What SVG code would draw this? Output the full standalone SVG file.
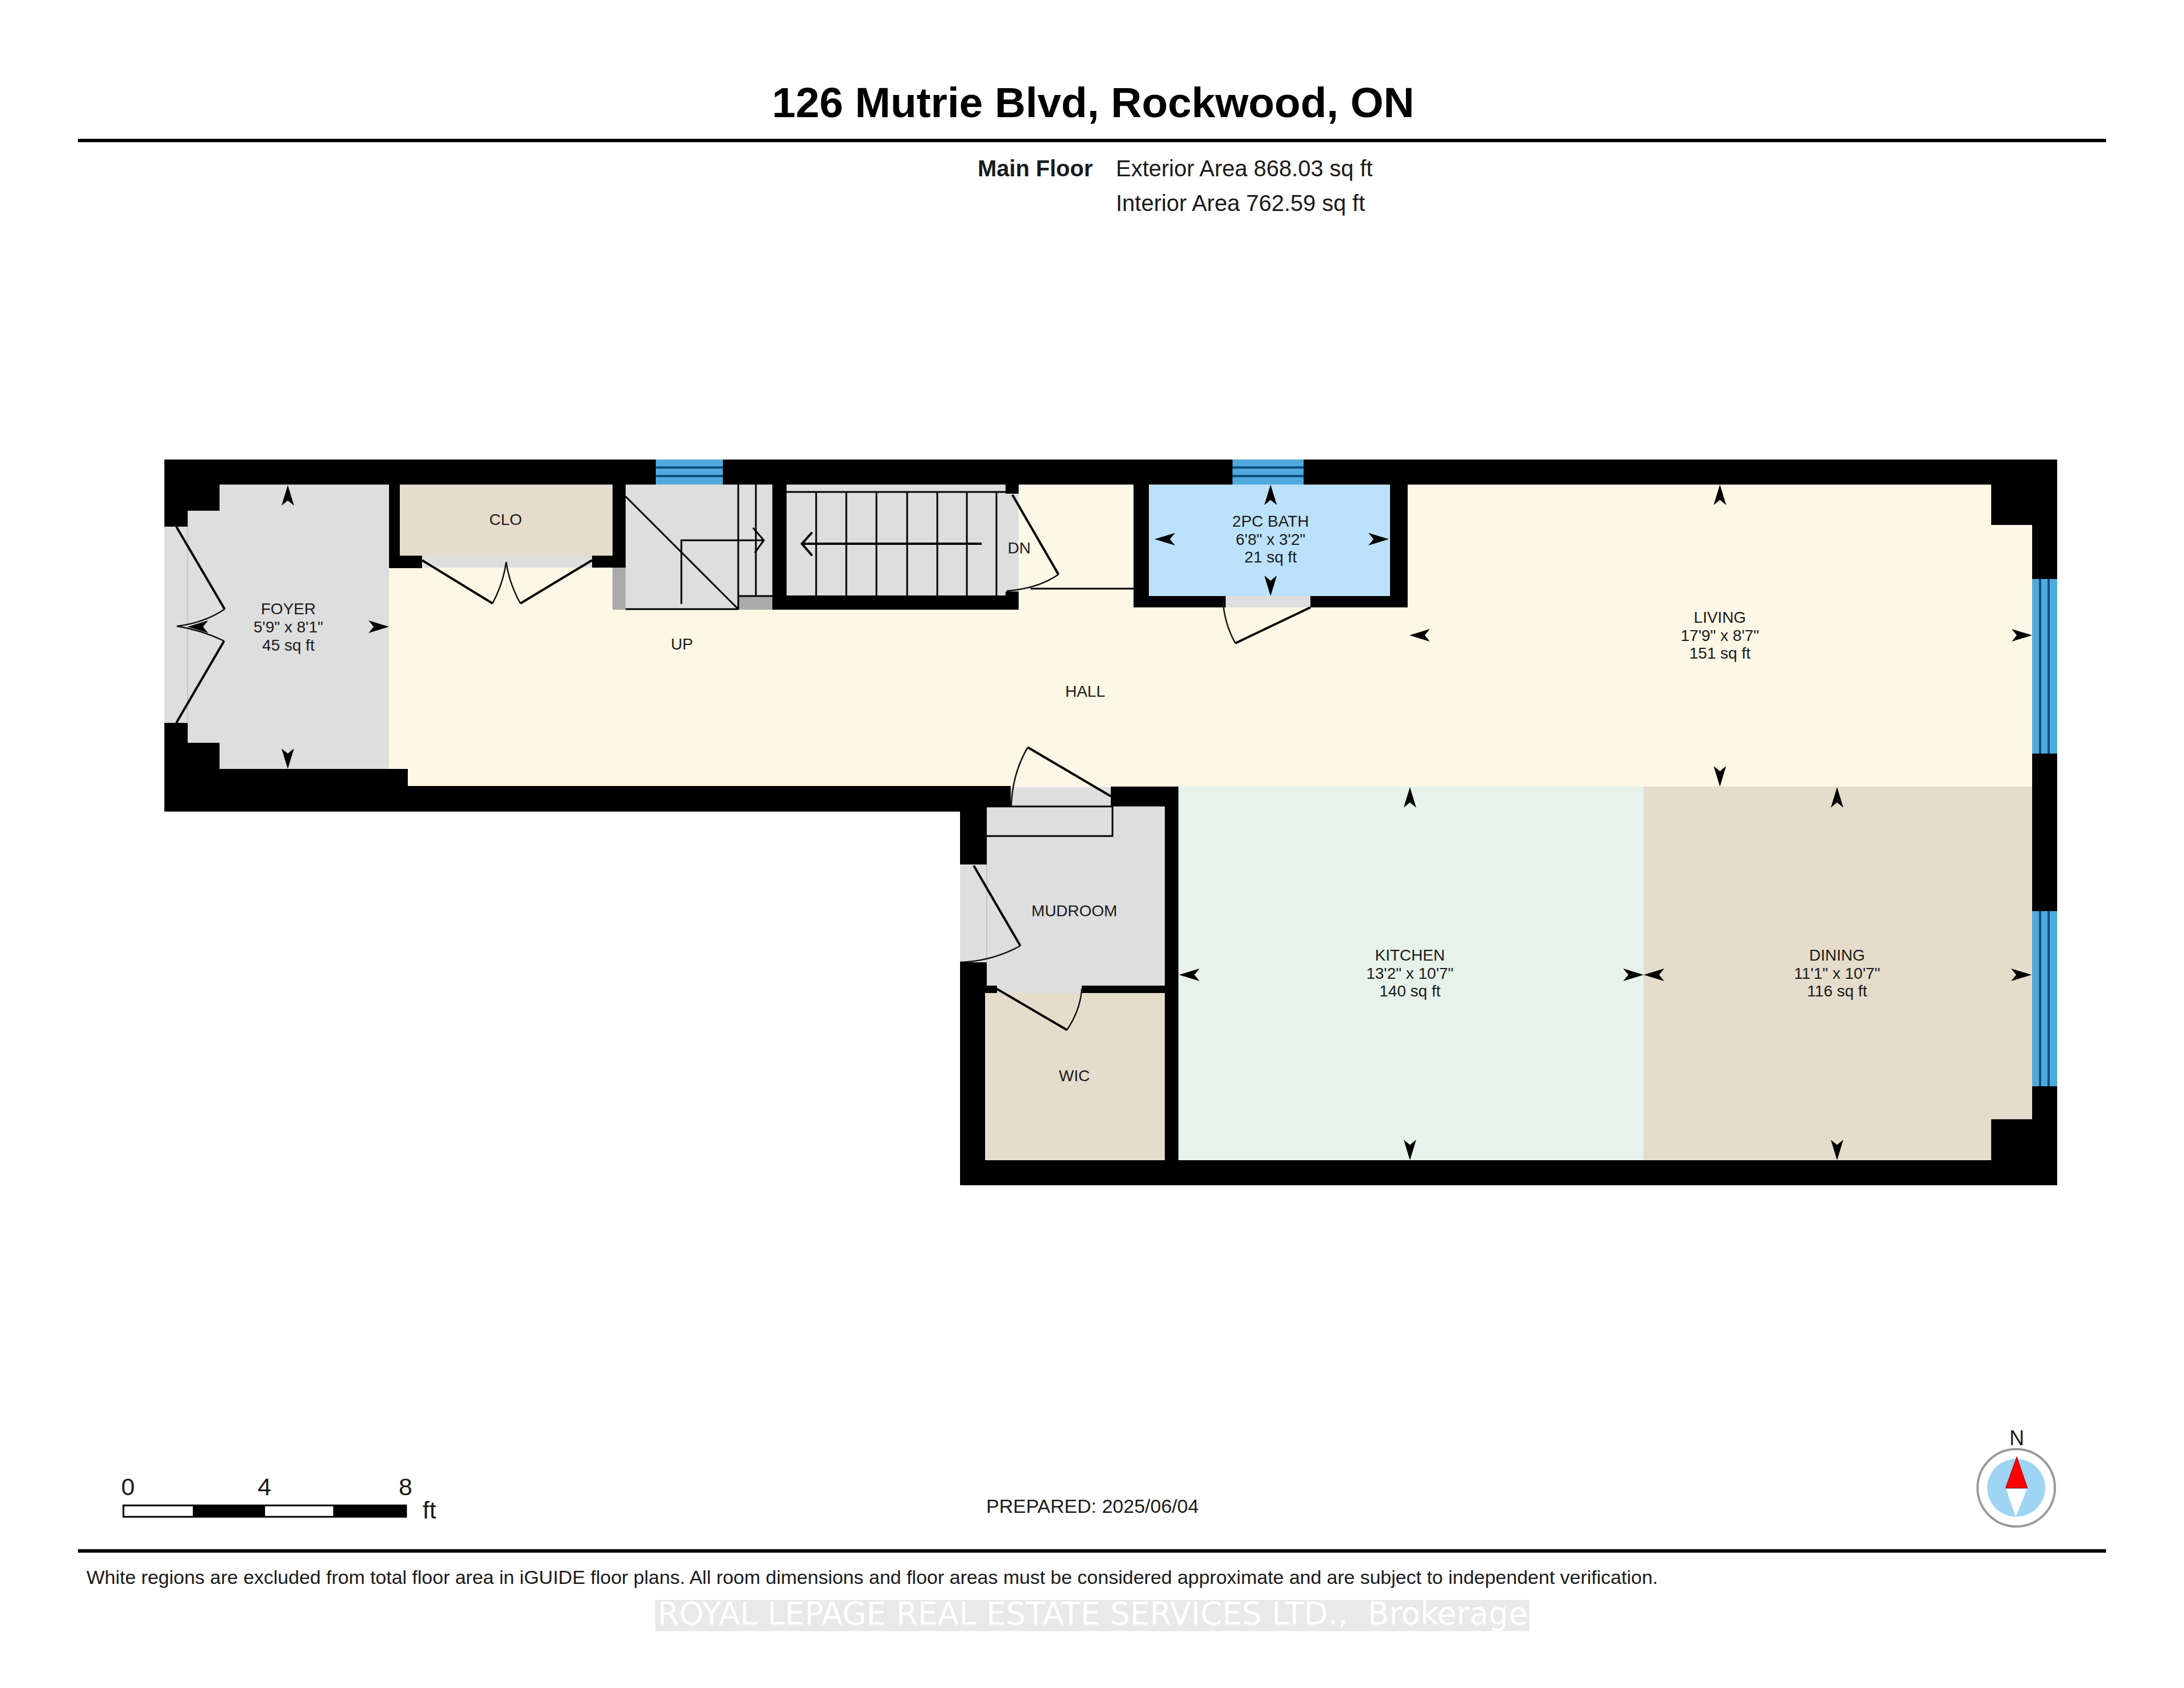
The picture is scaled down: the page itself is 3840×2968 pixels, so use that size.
<svg xmlns="http://www.w3.org/2000/svg" xmlns:xlink="http://www.w3.org/1999/xlink" width="3840" height="2968" viewBox="0 0 3840 2968">
<style>
text{font-family:"Liberation Sans",Arial,sans-serif;fill:#1a1a1a}
.r{font-size:28px;text-anchor:middle;dominant-baseline:central}
.w{fill:#000}
.g{fill:#dedede}
.d{fill:#aaa}
.glass{fill:#4fa9dd}
.st{fill:#0c4d80}
.l{fill:none;stroke:#000;stroke-width:4}
.t{fill:none;stroke:#000;stroke-width:3}
.a{fill:none;stroke:#111;stroke-width:2.5}
.seam{fill:#c6c6c6}
</style>
<defs>
<path id="ah" d="M0 0L11 36L0 27L-11 36Z" fill="#000"/>
</defs>
<rect width="3840" height="2968" fill="#fff"/>
<g id="header">
<text x="1922" y="206" font-size="75" font-weight="700" text-anchor="middle" style="fill:#000">126 Mutrie Blvd, Rockwood, ON</text>
<rect x="137" y="244" width="3566" height="6" fill="#000"/>
<text x="1719" y="310" font-size="40" font-weight="700">Main Floor</text>
<text x="1962" y="310" font-size="40">Exterior Area 868.03 sq ft</text>
<text x="1962" y="371" font-size="40">Interior Area 762.59 sq ft</text>
</g>
<g id="rooms">
<rect id="hall-bg" x="684" y="852" width="2889" height="531" fill="#fdf7e5"/>
<rect id="foyer-bg" x="330" y="852" width="354" height="500" class="g"/>
<rect id="clo-bg" x="703" y="852" width="375" height="125" fill="#e6dccc"/>
<rect id="bath-bg" x="2020" y="852" width="424" height="196" fill="#bce1fb"/>
<rect id="kitchen-bg" x="2072" y="1383" width="818" height="657" fill="#e6f2ea"/>
<rect id="dining-bg" x="2890" y="1383" width="683" height="657" fill="#e6dccc"/>
<rect id="mud-bg" x="1735" y="1418" width="313" height="315" class="g"/>
<rect id="wic-bg" x="1732" y="1746" width="316" height="294" fill="#e6dccc"/>
<rect id="stair-up-bg" x="1100" y="852" width="258" height="220" class="g"/>
<rect id="stair-dn-bg" x="1383" y="852" width="385" height="195" class="g"/>
</g>
<g id="walls">
<rect class="w" x="289" y="808" width="3328" height="44"/>
<path class="w" d="M289 808H386V898H330V926H289Z"/>
<path class="w" d="M289 1271H330V1306H386V1352H717V1382H1777V1418H1735V1427H289Z"/>
<rect class="w" x="684" y="852" width="19" height="147"/>
<rect class="w" x="684" y="977" width="58" height="22"/>
<rect class="w" x="1041" y="977" width="59" height="21"/>
<rect class="w" x="1077" y="852" width="23" height="146"/>
<rect class="w" x="1358" y="852" width="25" height="220"/>
<rect class="w" x="1358" y="1047" width="433" height="25"/>
<rect class="w" x="1768" y="852" width="23" height="16"/>
<rect class="w" x="1768" y="1040" width="23" height="32"/>
<rect class="w" x="1993" y="852" width="27" height="216"/>
<rect class="w" x="2444" y="852" width="31" height="216"/>
<rect class="w" x="1993" y="1048" width="162" height="20"/>
<rect class="w" x="2304" y="1048" width="171" height="20"/>
<path class="w" d="M3501 852H3617V1018H3573V923H3501Z"/>
<rect class="w" x="3573" y="1325" width="44" height="277"/>
<path class="w" d="M3573 1910H3617V2084H1688V1692H1735V1733H1732V2040H3501V1968H3573Z"/>
<rect class="w" x="1688" y="1427" width="47" height="93"/>
<rect class="w" x="1953" y="1383" width="119" height="35"/>
<rect class="w" x="2048" y="1383" width="24" height="660"/>
<rect class="w" x="1732" y="1733" width="21" height="13"/>
<rect class="w" x="1902" y="1733" width="146" height="13"/>
</g>
<g id="windows">
<rect class="glass" x="1153" y="808" width="118" height="44"/><rect class="st" x="1153" y="820" width="118" height="4"/><rect class="st" x="1153" y="835" width="118" height="4"/>
<rect class="glass" x="2167" y="808" width="125" height="44"/><rect class="st" x="2167" y="820" width="125" height="4"/><rect class="st" x="2167" y="835" width="125" height="4"/>
<rect class="glass" x="3573" y="1018" width="44" height="307"/><rect class="st" x="3585" y="1018" width="4" height="307"/><rect class="st" x="3600" y="1018" width="4" height="307"/>
<rect class="glass" x="3573" y="1602" width="44" height="308"/><rect class="st" x="3585" y="1602" width="4" height="308"/><rect class="st" x="3600" y="1602" width="4" height="308"/>
</g>
<g id="doors">
<rect class="g" x="289" y="926" width="41" height="345"/>
<rect class="seam" x="329" y="926" width="2" height="345"/>
<rect class="g" x="742" y="977" width="299" height="21"/>
<rect class="g" x="2155" y="1048" width="149" height="20"/>
<rect class="g" x="1777" y="1384" width="176" height="34"/>
<rect class="g" x="1688" y="1520" width="47" height="172"/>
<rect class="seam" x="1734" y="1520" width="2" height="172"/>
<rect class="g" x="1753" y="1733" width="149" height="13"/>
<rect class="g" x="1768" y="868" width="23" height="172"/>
<path class="l" d="M310 926L395 1071"/><path class="a" d="M395 1071Q360 1095 311 1101"/>
<path class="l" d="M310 1271L394 1127"/><path class="a" d="M394 1127Q355 1108 311 1101"/>
<path class="l" d="M742 985L866 1061"/><path class="a" d="M866 1061Q885 1025 890 988"/>
<path class="l" d="M1041 985L915 1061"/><path class="a" d="M915 1061Q895 1025 890 988"/>
<path class="l" d="M1780 870L1861 1010"/><path class="a" d="M1861 1010Q1825 1035 1770 1039"/>
<path class="t" d="M1812 1035H1993"/>
<path class="l" d="M2304 1068L2172 1131"/><path class="a" d="M2172 1131Q2152 1095 2150 1053"/>
<path class="l" d="M1953 1400L1807 1314"/><path class="a" d="M1807 1314Q1780 1360 1778 1417"/>
<path class="l" d="M1712 1522L1794 1663"/><path class="a" d="M1794 1663Q1745 1690 1688 1692"/>
<path class="l" d="M1753 1739L1876 1811"/><path class="a" d="M1876 1811Q1900 1775 1902 1738"/>
<path class="t" d="M1735 1418H1956V1470H1735"/>
</g>
<g id="stairs">
<rect class="d" x="1077" y="998" width="23" height="74"/>
<rect class="d" x="1298" y="1048" width="60" height="24"/>
<path class="t" d="M1298 852V1072M1329 852V1048M1298 1048H1358M1100 1071H1298M1100 873L1298 1071"/>
<path class="t" d="M1198 1062V950H1343M1324 928L1343 950L1327 972"/>
<path class="t" d="M1383 865H1768M1435 865V1047M1488 865V1047M1541 865V1047M1595 865V1047M1648 865V1047M1700 865V1047M1752 865V1047"/>
<path class="l" d="M1726 956H1410M1428 936L1410 956L1428 977"/>
</g>
<g id="dimension-arrows">
<use href="#ah" transform="translate(506 853)"/>
<use href="#ah" transform="translate(506 1352) rotate(180)"/>
<use href="#ah" transform="translate(330 1102) rotate(-90)"/>
<use href="#ah" transform="translate(684 1102) rotate(90)"/>
<use href="#ah" transform="translate(2234 852)"/>
<use href="#ah" transform="translate(2234 1048) rotate(180)"/>
<use href="#ah" transform="translate(2030 948) rotate(-90)"/>
<use href="#ah" transform="translate(2442 948) rotate(90)"/>
<use href="#ah" transform="translate(3024 852)"/>
<use href="#ah" transform="translate(3024 1383) rotate(180)"/>
<use href="#ah" transform="translate(2478 1117) rotate(-90)"/>
<use href="#ah" transform="translate(3573 1117) rotate(90)"/>
<use href="#ah" transform="translate(2479 1384)"/>
<use href="#ah" transform="translate(2479 2040) rotate(180)"/>
<use href="#ah" transform="translate(2073 1714) rotate(-90)"/>
<use href="#ah" transform="translate(2890 1714) rotate(90)"/>
<use href="#ah" transform="translate(3230 1384)"/>
<use href="#ah" transform="translate(3230 2040) rotate(180)"/>
<use href="#ah" transform="translate(2890 1714) rotate(-90)"/>
<use href="#ah" transform="translate(3572 1714) rotate(90)"/>
</g>
<g id="labels">
<text class="r" x="507" y="1070">FOYER</text><text class="r" x="507" y="1102">5'9" x 8'1"</text><text class="r" x="507" y="1134">45 sq ft</text>
<text class="r" x="889" y="913">CLO</text>
<text class="r" x="1792" y="963">DN</text>
<text class="r" x="1199" y="1132">UP</text>
<text class="r" x="1908" y="1215">HALL</text>
<text class="r" x="2234" y="916">2PC BATH</text><text class="r" x="2234" y="948">6'8" x 3'2"</text><text class="r" x="2234" y="979">21 sq ft</text>
<text class="r" x="3024" y="1085">LIVING</text><text class="r" x="3024" y="1117">17'9" x 8'7"</text><text class="r" x="3024" y="1148">151 sq ft</text>
<text class="r" x="1889" y="1601">MUDROOM</text>
<text class="r" x="1889" y="1891">WIC</text>
<text class="r" x="2479" y="1679">KITCHEN</text><text class="r" x="2479" y="1711">13'2" x 10'7"</text><text class="r" x="2479" y="1742">140 sq ft</text>
<text class="r" x="3230" y="1679">DINING</text><text class="r" x="3230" y="1711">11'1" x 10'7"</text><text class="r" x="3230" y="1742">116 sq ft</text>
</g>
<g id="scale-bar">
<rect x="217" y="2647" width="497" height="20" fill="#fff" stroke="#000" stroke-width="3"/>
<rect x="339" y="2647" width="127" height="20" fill="#000"/>
<rect x="586" y="2647" width="128" height="20" fill="#000"/>
<text x="225" y="2629" font-size="43" text-anchor="middle">0</text>
<text x="465" y="2629" font-size="43" text-anchor="middle">4</text>
<text x="713" y="2629" font-size="43" text-anchor="middle">8</text>
<text x="743" y="2670" font-size="43">ft</text>
</g>
<g id="compass">
<text x="3546" y="2541" font-size="36" text-anchor="middle">N</text>
<circle cx="3545" cy="2616" r="68" fill="#fff" stroke="#999" stroke-width="4"/>
<circle cx="3545" cy="2616" r="51" fill="#9fd5f3"/>
<path d="M3546 2563L3564 2616L3527 2616Z" fill="#f00" stroke="#c00" stroke-width="2"/>
<path d="M3527 2618L3564 2618L3544 2667Z" fill="#fff"/>
</g>
<g id="footer">
<text x="1734" y="2660" font-size="34">PREPARED: 2025/06/04</text>
<rect x="137" y="2724" width="3566" height="6" fill="#000"/>
<text x="152" y="2785" font-size="34">White regions are excluded from total floor area in iGUIDE floor plans. All room dimensions and floor areas must be considered approximate and are subject to independent verification.</text>
<rect x="1152" y="2813" width="1537" height="55" fill="#e9e9e9"/>
<text x="1156" y="2856" font-size="55" style="font-family:'DejaVu Sans',sans-serif;fill:#fff" textLength="1530" lengthAdjust="spacingAndGlyphs" xml:space="preserve">ROYAL LEPAGE REAL ESTATE SERVICES LTD.,  Brokerage</text>
</g>
</svg>
